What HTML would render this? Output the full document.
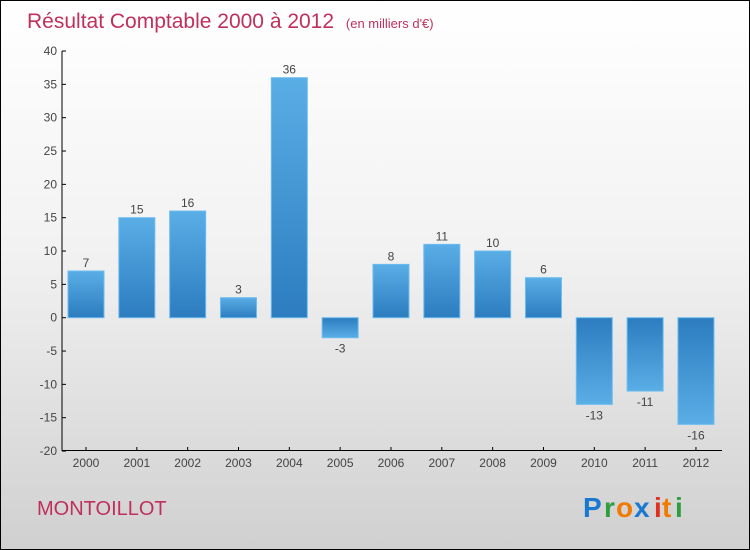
<!DOCTYPE html>
<html><head><meta charset="utf-8"><style>
body{margin:0}
#c{position:relative;width:748px;height:548px;border:1px solid #000;background:linear-gradient(#ffffff 0%,#f2f2f2 45%,#d0d0d0 100%);font-family:"Liberation Sans",sans-serif;overflow:hidden}
</style></head><body>
<div id="c">
<svg id="s" width="748" height="548">
<defs><linearGradient id="g" x1="0" y1="0" x2="0" y2="1"><stop offset="0" stop-color="#5aaee6"/><stop offset="1" stop-color="#2c7cbf"/></linearGradient>
<linearGradient id="gn" x1="0" y1="0" x2="0" y2="1"><stop offset="0" stop-color="#2c7cbf"/><stop offset="1" stop-color="#5aaee6"/></linearGradient></defs>
<text x="26" y="27" font-size="21" fill="#c0305c">Résultat Comptable 2000 à 2012 <tspan font-size="13" dx="6">(en milliers d'€)</tspan></text>
<text x="36" y="514" font-size="20" fill="#c0305c">MONTOILLOT</text>
<g font-size="28" font-weight="bold">
<text x="582" y="516" fill="#1a78d0">P</text><text x="603" y="516" fill="#2e9e3e">r</text><text x="615" y="516" fill="#f07b00">o</text><text x="633" y="516" fill="#1a78d0">x</text><text x="653" y="516" fill="#e03020">i</text><text x="661" y="516" fill="#f07b00">t</text><text x="674" y="516" fill="#2e9e3e">i</text></g>
<g id="plot"></g>
</svg></div>
<script>
const years=["2000","2001","2002","2003","2004","2005","2006","2007","2008","2009","2010","2011","2012"];
const values=[7,15,16,3,36,-3,8,11,10,6,-13,-11,-16];
const ticks=[40,35,30,25,20,15,10,5,0,-5,-10,-15,-20];
const NS="http://www.w3.org/2000/svg";
const g=document.getElementById('plot');
const y=v=>316.7-v*6.667;
const x=i=>85+i*50.83;
function el(t,a){const e=document.createElementNS(NS,t);for(const k in a)e.setAttribute(k,a[k]);g.appendChild(e);return e;}
let ax=el('line',{x1:61,y1:50,x2:61,y2:450,stroke:'#000'});

let bx=el('line',{x1:61,y1:449.5,x2:721,y2:449.5,stroke:'#000'});

ticks.forEach(t=>{
 const l=el('line',{x1:61,y1:y(t),x2:65,y2:y(t),stroke:'#000'});
 
 const tx=el('text',{x:56,y:y(t)+4,'text-anchor':'end','font-size':12,fill:'#444'});tx.textContent=t;
 
});
years.forEach((yr,i)=>{
 const v=values[i],cx=x(i);
 const top=Math.min(y(v),y(0)),h=Math.abs(y(v)-y(0));
 const r=el('rect',{x:cx-18,y:top,width:36,height:h,fill:v>=0?'url(#g)':'url(#gn)',stroke:'#6bbcf0','stroke-width':1});
 
 const vl=el('text',{x:cx,y:v>=0?y(v)-4:y(v)+15,'text-anchor':'middle','font-size':12,fill:'#444'});vl.textContent=v;
 
 const tk=el('line',{x1:cx,y1:446,x2:cx,y2:450,stroke:'#000'});
 
 const xl=el('text',{x:cx,y:466,'text-anchor':'middle','font-size':12,fill:'#444'});xl.textContent=yr;
 
});
</script>
</body></html>
